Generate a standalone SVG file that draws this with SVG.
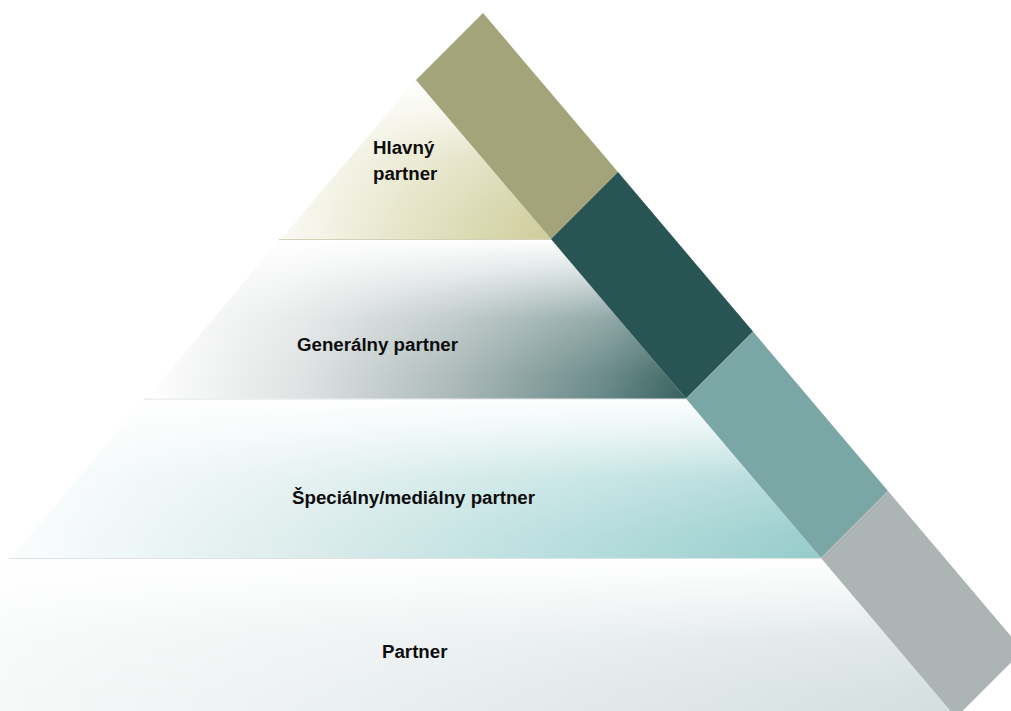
<svg xmlns="http://www.w3.org/2000/svg" width="1011" height="711" viewBox="0 0 1011 711">
<style>
.lbl { font-family: "Liberation Sans", Arial, sans-serif; font-weight: bold; font-size: 18.7px; fill: #0d0d0d; }
.fade { fill: url(#fade); }
.sep { stroke: #dde2e2; stroke-width: 1; fill: none; }
</style>
<defs>
<linearGradient id="fade" x1="0" y1="0" x2="0" y2="1">
<stop offset="0" stop-color="#ffffff" stop-opacity="1"/>
<stop offset="0.2" stop-color="#ffffff" stop-opacity="0.75"/>
<stop offset="0.5" stop-color="#ffffff" stop-opacity="0.28"/>
<stop offset="0.85" stop-color="#ffffff" stop-opacity="0.04"/>
<stop offset="1" stop-color="#ffffff" stop-opacity="0"/>
</linearGradient>
<linearGradient id="g1" gradientUnits="userSpaceOnUse" x1="281" y1="0" x2="551" y2="0">
<stop offset="0" stop-color="#fafaf6"/>
<stop offset="0.45" stop-color="#e6e5c8"/>
<stop offset="1" stop-color="#cfcd9b"/>
</linearGradient>
<linearGradient id="g2" gradientUnits="userSpaceOnUse" x1="146" y1="0" x2="686" y2="0">
<stop offset="0" stop-color="#ffffff"/>
<stop offset="0.28" stop-color="#e0e3e3"/>
<stop offset="0.56" stop-color="#adbaba"/>
<stop offset="0.84" stop-color="#6a8a89"/>
<stop offset="1" stop-color="#38625f"/>
</linearGradient>
<linearGradient id="g3" gradientUnits="userSpaceOnUse" x1="11" y1="0" x2="821" y2="0">
<stop offset="0" stop-color="#fbfdfd"/>
<stop offset="0.36" stop-color="#dcecec"/>
<stop offset="0.72" stop-color="#b4dcdc"/>
<stop offset="1" stop-color="#97cccc"/>
</linearGradient>
<linearGradient id="g4" gradientUnits="userSpaceOnUse" x1="0" y1="0" x2="956" y2="0">
<stop offset="0" stop-color="#f7f9f9"/>
<stop offset="0.5" stop-color="#e6ecec"/>
<stop offset="1" stop-color="#d4dedf"/>
</linearGradient>
</defs>
<rect width="1011" height="711" fill="#ffffff"/>

<g id="layer-partner">
<polygon points="11,558 821,558 956,717.5 -124,717.5" fill="url(#g4)"/>
<polygon class="fade" points="11,558 821,558 956,717.5 -124,717.5"/>
<line class="sep" x1="9" y1="558.5" x2="821" y2="558.5"/>
<text class="lbl" x="382" y="658">Partner</text>
</g>

<g id="layer-specialny">
<polygon points="146,398.5 686,398.5 821,558 11,558" fill="url(#g3)"/>
<polygon class="fade" points="146,398.5 686,398.5 821,558 11,558"/>
<line class="sep" x1="144" y1="399" x2="686" y2="399"/>
<text class="lbl" x="292" y="504">Špeciálny/mediálny partner</text>
</g>

<g id="layer-generalny">
<polygon points="281,239 551,239 686,398.5 146,398.5" fill="url(#g2)"/>
<polygon class="fade" points="281,239 551,239 686,398.5 146,398.5"/>
<line x1="279" y1="239.5" x2="551" y2="239.5" stroke="#d2d2b8" stroke-width="1"/>
<text class="lbl" x="297" y="351">Generálny partner</text>
</g>

<g id="layer-hlavny">
<polygon points="416,80 551,239 281,239" fill="url(#g1)"/>
<polygon class="fade" points="416,80 551,239 281,239"/>
<text class="lbl" x="373" y="154">Hlavný</text>
<text class="lbl" x="373" y="180">partner</text>
</g>

<g id="band-1">
<polygon points="416,80 483,13 618,172 551,239" fill="#a4a47b"/>
</g>
<g id="band-2">
<polygon points="551,239 618,172 753,331.5 686,398.5" fill="#285453"/>
</g>
<g id="band-3">
<polygon points="686,398.5 753,331.5 888,491 821,558" fill="#7ba6a6"/>
</g>
<g id="band-4">
<polygon points="821,558 888,491 1023,650.5 956,717.5" fill="#adb5b4"/>
</g>
</svg>
